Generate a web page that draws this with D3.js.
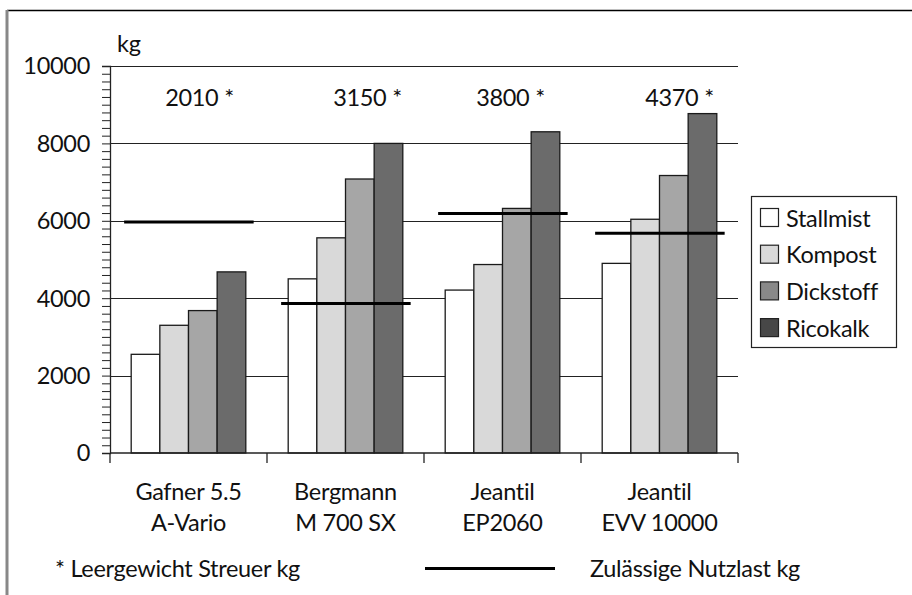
<!DOCTYPE html>
<html>
<head>
<meta charset="utf-8">
<script src="https://cdn.jsdelivr.net/npm/d3@7"></script>
<style>
  html, body { margin: 0; padding: 0; background: #fff; }
  svg text { font-family: Lato, "Open Sans", sans-serif; fill: #111; letter-spacing: -0.3px; }
</style>
</head>
<body>
<div id="vis"></div>
<script>
// categories (two-line labels)
var machines = ["Gafner 5.5|A-Vario", "Bergmann|M 700 SX", "Jeantil|EP2060", "Jeantil|EVV 10000"];
var materials = ["Stallmist", "Kompost", "Dickstoff", "Ricokalk"];

// load weights per material, kg
var stallmist = [2550, 4500, 4210, 4900];
var kompost   = [3300, 5560, 4870, 6040];
var dickstoff = [3680, 7080, 6320, 7170];
var ricokalk  = [4680, 8000, 8300, 8770];

// allowed payload (horizontal bar per machine) and empty weight labels
var nutzlast = [5970, 3860, 6190, 5680];
var leergewicht = [2010, 3150, 3800, 4370];

var yTicks = [0, 2000, 4000, 6000, 8000, 10000];

var width = 912, height = 595;
var margin = { top: 66, left: 110, right: 174, bottom: 142 };
var fs = "23.5px";

// bar fills and the (darker) legend swatches
var barFill = ["#ffffff", "#d9d9d9", "#a6a6a6", "#6b6b6b"];
var keyFill = ["#ffffff", "#d9d9d9", "#898989", "#474747"];
// hand-placed offsets of the "* kg" notes from the group centre
var noteShift = [11, 22, 8, 20];

var series = [stallmist, kompost, dickstoff, ricokalk];
var rows = machines.map(function(m, i) {
    return { name: m, values: series.map(function(s) { return s[i]; }) };
});

var svg = d3.select("#vis").append("svg")
    .attr("width", width)
    .attr("height", height);

// outer frame (only top and left edges are visible)
svg.append("line")
    .attr("x1", 7).attr("x2", width).attr("y1", 10.5).attr("y2", 10.5)
    .attr("stroke", "#000").attr("stroke-width", 1.5);
svg.append("line")
    .attr("x1", 7).attr("x2", 7).attr("y1", 10).attr("y2", height)
    .attr("stroke", "#888").attr("stroke-width", 3);

var g = svg.append("g")
    .attr("transform", "translate(" + margin.left + "," + margin.top + ")");

var w = width - margin.left - margin.right;   // 628
var h = height - margin.top - margin.bottom;  // 387

var x0 = d3.scaleBand().domain(machines).range([0, w]).padding(0);
var bw = x0.bandwidth();
var x1 = d3.scaleBand().domain(materials)
    .range([bw * 0.135, bw * 0.865]).padding(0);
var y = d3.scaleLinear().domain([0, 10000]).range([h, 0]);

// gridlines
g.append("g").selectAll("line")
    .data(yTicks.slice(1))
    .enter().append("line")
    .attr("x1", 0).attr("x2", w)
    .attr("y1", function(d) { return Math.round(y(d)) + 0.5; })
    .attr("y2", function(d) { return Math.round(y(d)) + 0.5; })
    .attr("stroke", "#222").attr("stroke-width", 1);

// bars
var groups = g.selectAll(".machine")
    .data(rows)
    .enter().append("g")
    .attr("class", "machine")
    .attr("transform", function(d) { return "translate(" + x0(d.name) + ",0)"; });

groups.selectAll("rect")
    .data(function(d) { return d.values.map(function(v, i) { return { key: materials[i], v: v, i: i }; }); })
    .enter().append("rect")
    .attr("x", function(d) { return x1(d.key); })
    .attr("y", function(d) { return y(d.v); })
    .attr("width", x1.bandwidth())
    .attr("height", function(d) { return h - y(d.v); })
    .attr("fill", function(d) { return barFill[d.i]; })
    .attr("stroke", "#1a1a1a")
    .attr("stroke-width", 1.3);

// allowed payload lines
groups.append("line")
    .attr("x1", bw * 0.09).attr("x2", bw * 0.915)
    .attr("y1", function(d, i) { return y(nutzlast[i]); })
    .attr("y2", function(d, i) { return y(nutzlast[i]); })
    .attr("stroke", "#000").attr("stroke-width", 3);

// empty weight notes
groups.append("text")
    .attr("x", function(d, i) { return bw / 2 + noteShift[i]; })
    .attr("y", 40)
    .attr("text-anchor", "middle")
    .style("font-size", fs)
    .text(function(d, i) { return leergewicht[i] + " *"; });

// y axis with minor ticks every 200
var yAxis = g.append("g")
    .call(d3.axisLeft(y).tickValues(d3.range(0, 10001, 200)).tickSize(8).tickFormat(""));
yAxis.select(".domain").attr("stroke", "#222").attr("stroke-width", 1.3);
yAxis.selectAll(".tick line").attr("stroke", "#222");

g.append("g").selectAll("text")
    .data(yTicks)
    .enter().append("text")
    .attr("x", -20)
    .attr("y", function(d) { return y(d); })
    .attr("dy", "0.36em")
    .attr("text-anchor", "end")
    .style("font-size", fs)
    .text(function(d) { return d; });

g.append("text")
    .attr("x", 7).attr("y", -14)
    .style("font-size", fs)
    .text("kg");

// x axis: line plus ticks at group boundaries
g.append("line")
    .attr("x1", 0).attr("x2", w).attr("y1", h).attr("y2", h)
    .attr("stroke", "#222").attr("stroke-width", 1.3);
g.append("g").selectAll("line")
    .data(machines.concat(["end"]))
    .enter().append("line")
    .attr("x1", function(d, i) { return i * bw; })
    .attr("x2", function(d, i) { return i * bw; })
    .attr("y1", h).attr("y2", h + 10)
    .attr("stroke", "#222").attr("stroke-width", 1.3);

var labels = g.append("g").selectAll("text")
    .data(machines)
    .enter().append("text")
    .attr("x", function(d) { return x0(d) + bw / 2; })
    .attr("y", h + 47)
    .attr("text-anchor", "middle")
    .style("font-size", fs);
labels.selectAll("tspan")
    .data(function(d) { return d.split("|"); })
    .enter().append("tspan")
    .attr("x", function() { return d3.select(this.parentNode).attr("x"); })
    .attr("dy", function(d, i) { return i ? 31 : 0; })
    .text(function(d) { return d; });

// legend
var legend = svg.append("g").attr("transform", "translate(751,196)");
legend.append("rect")
    .attr("x", 0.5).attr("y", 0.5).attr("width", 145).attr("height", 151)
    .attr("fill", "#fff").attr("stroke", "#222").attr("stroke-width", 1.2);
var item = legend.selectAll(".key")
    .data(materials)
    .enter().append("g")
    .attr("class", "key")
    .attr("transform", function(d, i) { return "translate(0," + (i * 36.7) + ")"; });
item.append("rect")
    .attr("x", 9.5).attr("y", 12.5).attr("width", 18).attr("height", 18)
    .attr("fill", function(d, i) { return keyFill[i]; })
    .attr("stroke", "#222").attr("stroke-width", 1.2);
item.append("text")
    .attr("x", 35).attr("y", 30.5)
    .style("font-size", fs)
    .text(function(d) { return d; });

// footnotes
svg.append("text")
    .attr("x", 55).attr("y", 577)
    .style("font-size", fs)
    .text("* Leergewicht Streuer kg");
svg.append("line")
    .attr("x1", 425).attr("x2", 555).attr("y1", 568.5).attr("y2", 568.5)
    .attr("stroke", "#000").attr("stroke-width", 3);
svg.append("text")
    .attr("x", 590).attr("y", 577)
    .style("font-size", fs)
    .text("Zulässige Nutzlast kg");
</script>
</body>
</html>
